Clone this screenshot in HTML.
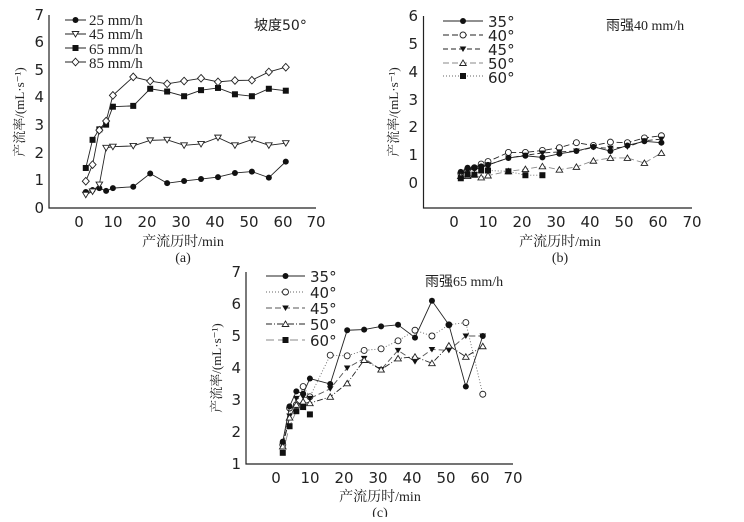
<!DOCTYPE html>
<html><head><meta charset="utf-8"><style>
body{margin:0;background:#fff;width:744px;height:517px;overflow:hidden}
svg text{font-family:"DejaVu Sans","Noto Sans CJK SC",sans-serif;fill:#222}
.s{font-family:"Liberation Serif","Noto Serif CJK SC",serif}
</style></head><body>
<svg id="g" width="744" height="517" xmlns="http://www.w3.org/2000/svg" font-size="14">
<g stroke="#222" stroke-width="1.2" fill="none">
<path d="M49,15V208H316"/><path d="M423.5,16V208H692"/><path d="M246,272V464H513"/>
</g>
<g font-size="15" text-anchor="end">
<text x="44" y="213">0</text><text x="44" y="185">1</text><text x="44" y="158">2</text><text x="44" y="130">3</text><text x="44" y="102">4</text><text x="44" y="75">5</text><text x="44" y="47">6</text><text x="44" y="20">7</text>
<text x="418" y="188">0</text><text x="418" y="160">1</text><text x="418" y="132">2</text><text x="418" y="105">3</text><text x="418" y="77">4</text><text x="418" y="49">5</text><text x="418" y="21">6</text>
<text x="241" y="469">1</text><text x="241" y="437">2</text><text x="241" y="405">3</text><text x="241" y="373">4</text><text x="241" y="341">5</text><text x="241" y="309">6</text><text x="241" y="277">7</text>
</g>
<g text-anchor="middle" font-size="15">
<text x="79" y="227">0</text><text x="113" y="227">10</text><text x="147" y="227">20</text><text x="181" y="227">30</text><text x="215" y="227">40</text><text x="249" y="227">50</text><text x="283" y="227">60</text><text x="316" y="227">70</text>
<text x="454" y="227">0</text><text x="488" y="227">10</text><text x="522" y="227">20</text><text x="556" y="227">30</text><text x="590" y="227">40</text><text x="624" y="227">50</text><text x="658" y="227">60</text><text x="692" y="227">70</text>
<text x="276" y="483">0</text><text x="310" y="483">10</text><text x="344" y="483">20</text><text x="378" y="483">30</text><text x="412" y="483">40</text><text x="446" y="483">50</text><text x="480" y="483">60</text><text x="513" y="483">70</text>
</g>
<g text-anchor="middle" font-size="14">
<text x="183" y="246" class="s">产流历时/min</text><text x="560" y="246" class="s">产流历时/min</text><text x="380" y="501" class="s">产流历时/min</text>
<text x="183" y="262" class="s">(a)</text><text x="560" y="262" class="s">(b)</text><text x="380" y="517" class="s">(c)</text>
</g>
<text x="24" y="112" font-size="13" class="s" text-anchor="middle" transform="rotate(-90 24 112)">产流率/(mL·s⁻¹)</text>
<text x="398" y="112" font-size="13" class="s" text-anchor="middle" transform="rotate(-90 398 112)">产流率/(mL·s⁻¹)</text>
<text x="221" y="368" font-size="13" class="s" text-anchor="middle" transform="rotate(-90 221 368)">产流率/(mL·s⁻¹)</text>
<text x="254" y="30" font-size="14">坡度50°</text>
<text x="606" y="30" font-size="14">雨强<tspan class="s">40 mm/h</tspan></text>
<text x="425" y="286" font-size="14">雨强<tspan class="s">65 mm/h</tspan></text>
<g font-size="15" class="s">
<text x="89" y="25" class="s">25 mm/h</text><text x="89" y="39" class="s">45 mm/h</text><text x="89" y="54" class="s">65 mm/h</text><text x="89" y="68" class="s">85 mm/h</text>
</g>
<g font-size="15">
<text x="488" y="27">35°</text><text x="488" y="41">40°</text><text x="488" y="55">45°</text><text x="488" y="69">50°</text><text x="488" y="83">60°</text>
<text x="310" y="282">35°</text><text x="310" y="298">40°</text><text x="310" y="314">45°</text><text x="310" y="330">50°</text><text x="310" y="346">60°</text>
</g>
<g id="d"></g>
</svg>
<script>
var NS="http://www.w3.org/2000/svg",D=document.getElementById("d");
function el(t,a){var e=document.createElementNS(NS,t);for(var k in a)e.setAttribute(k,a[k]);D.appendChild(e);return e}
function mk(m,x,y){var r=3;
 if(m=="c")el("circle",{cx:x,cy:y,r:r,fill:"#111"});
 if(m=="o")el("circle",{cx:x,cy:y,r:r,fill:"#fff",stroke:"#222","stroke-width":0.9});
 if(m=="s")el("rect",{x:x-3,y:y-3,width:6,height:6,fill:"#111"});
 if(m=="v")el("path",{d:"M"+(x-3.3)+","+(y-2.5)+"h6.6l-3.3,5.5z",fill:"#fff",stroke:"#222","stroke-width":0.9});
 if(m=="V")el("path",{d:"M"+(x-3.3)+","+(y-2.5)+"h6.6l-3.3,5.5z",fill:"#111"});
 if(m=="t")el("path",{d:"M"+(x-3.3)+","+(y+2.5)+"h6.6l-3.3,-5.5z",fill:"#fff",stroke:"#222","stroke-width":0.9});
 if(m=="d")el("path",{d:"M"+x+","+(y-3.8)+"l3.5,3.8l-3.5,3.8l-3.5,-3.8z",fill:"#fff",stroke:"#222","stroke-width":0.9});
}
function ser(P,xs,ys,m,dash,col){var pts=ys.map(function(v,i){return [P.x0+xs[i]*P.kx,P.y0-v*P.ky]});
 el("polyline",{points:pts.map(function(p){return p.join(",")}).join(" "),fill:"none",stroke:col||"#222","stroke-width":0.9,"stroke-dasharray":dash||""});
 pts.forEach(function(p){mk(m,p[0],p[1])});}
function leg(x1,x2,y,m,dash,col){el("line",{x1:x1,y1:y,x2:x2,y2:y,stroke:col||"#222","stroke-width":0.9,"stroke-dasharray":dash||""});mk(m,(x1+x2)/2,y)}
var T=[2,4,6,8,10,16,21,26,31,36,41,46,51,56,61];
var A={x0:79,kx:3.39,y0:208,ky:27.6};
ser(A,T,[.58,.65,.72,.62,.72,.77,1.25,.9,.98,1.05,1.12,1.27,1.32,1.1,1.68],"c");
ser(A,T,[.48,.6,.85,2.18,2.22,2.25,2.45,2.47,2.27,2.32,2.55,2.27,2.48,2.27,2.35],"v");
ser(A,T,[1.45,2.47,2.85,3.02,3.67,3.7,4.32,4.22,4.05,4.27,4.35,4.12,4.05,4.32,4.25],"s");
ser(A,T,[.97,1.57,2.82,3.15,4.08,4.75,4.6,4.5,4.6,4.7,4.57,4.62,4.63,4.93,5.1],"d");
leg(65,86,20,"c");leg(65,86,34,"v");leg(65,86,48,"s");leg(65,86,62,"d");
var B={x0:454,kx:3.4,y0:183,ky:27.8};
ser(B,T,[.35,.5,.55,.68,.77,1.1,1.1,1.17,1.27,1.45,1.35,1.47,1.45,1.62,1.7],"o","6,3");
ser(B,T,[.3,.45,.5,.55,.65,.9,1.0,1.08,1.12,1.15,1.28,1.25,1.3,1.52,1.58],"V","5,3");
ser(B,T,[.4,.55,.55,.6,.65,.9,.98,.92,1.05,1.15,1.3,1.15,1.35,1.5,1.45],"c");
ser(B,T,[.25,.25,.3,.2,.27,.42,.5,.6,.48,.58,.8,.9,.9,.72,1.08],"t","6,3","#888");
ser(B,T.slice(0,8),[.17,.3,.3,.45,.45,.42,.28,.28],"s","1,2","#666");
leg(443,483,21,"c");leg(443,483,35,"o","6,3");leg(443,483,49,"V","5,3");leg(443,483,63,"t","6,3","#888");leg(443,483,76,"s","1,2","#666");
var C={x0:276,kx:3.39,y0:496,ky:32};
ser(C,T,[1.6,2.75,2.85,3.42,3.1,4.4,4.38,4.55,4.6,4.85,5.18,5.0,5.35,5.42,3.18],"o","1,2","#666");
ser(C,T,[1.6,2.5,3.05,3.1,3.05,3.35,4.0,4.3,3.95,4.55,4.2,4.58,4.55,5.0,5.0],"V","6,3","#555");
ser(C,T,[1.55,2.45,2.85,2.95,2.9,3.1,3.52,4.25,3.95,4.3,4.35,4.15,4.7,4.35,4.68],"t","6,2,1,2");
ser(C,T,[1.7,2.8,3.27,3.2,3.67,3.5,5.18,5.2,5.3,5.35,4.95,6.1,5.35,3.42,5.0],"c");
ser(C,T.slice(0,5),[1.35,2.18,2.65,2.78,2.55],"s","8,4","#888");
leg(266,305,276,"c");leg(266,305,292,"o","1,2","#666");leg(266,305,308,"V","6,3","#555");leg(266,305,324,"t","6,2,1,2");leg(266,305,340,"s","8,4","#888");
</script>
</body></html>
